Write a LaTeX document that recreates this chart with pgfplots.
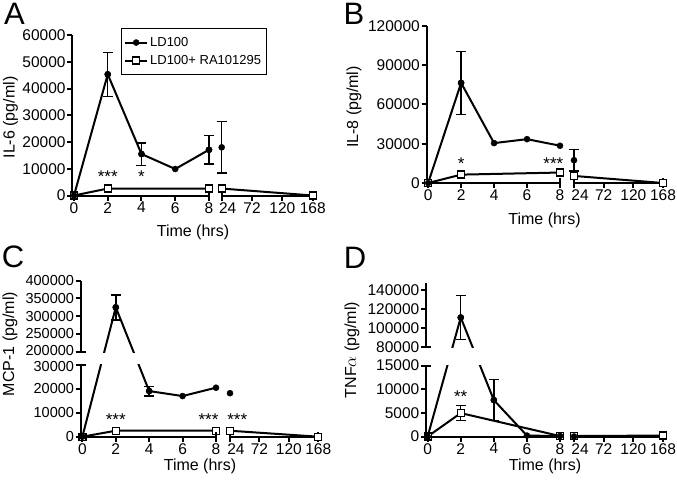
\documentclass[border=0pt]{standalone}
\usepackage{fontspec}
\setmainfont{Liberation Sans}
\usepackage{pgfplots}
\pgfplotsset{compat=1.18}

\newcommand\tickfont{\fontsize{15.5}{18}\selectfont}
\newcommand\tickfontC{\fontsize{14.5}{16}\selectfont}
\newcommand\labfont{\fontsize{16}{19}\selectfont}
\newcommand\letfont{\fontsize{31}{31}\selectfont}
\newcommand\starfont{\fontsize{17}{17}\selectfont}

% broken-axis transforms (value -> pt above the x axis)
\newcommand\brkC[1]{\begingroup\pgfkeys{/pgf/fpu=true,/pgf/fpu/output format=fixed}%
  \pgfmathparse{ifthenelse(#1<100000,#1*0.00239,85+(#1-200000)*0.000355)}%
  \global\let\brkres\pgfmathresult\endgroup\let\pgfmathresult\brkres}
\newcommand\brkD[1]{\begingroup\pgfkeys{/pgf/fpu=true,/pgf/fpu/output format=fixed}%
  \pgfmathparse{ifthenelse(#1<50000,#1*0.00473,89.4+(#1-80000)*0.000955)}%
  \global\let\brkres\pgfmathresult\endgroup\let\pgfmathresult\brkres}

\pgfplotsset{
  base/.style={scale only axis, anchor=south west, axis lines=left,
    axis line style={-, line width=2pt},
    tick style={line width=2pt, black}, major tick length=5pt, tick align=outside,
    ticklabel style={font=\tickfont, inner xsep=1.5pt, inner ysep=0.5pt},
    xticklabel style={yshift=-1pt},
    /pgf/number format/fixed, /pgf/number format/precision=0,
    /pgf/number format/assume math mode=true, /pgf/number format/1000 sep={},
    scaled ticks=false, clip=false, minor tick num=0},
  capx/.style={extra x tick style={tick align=center, major tick length=10pt}},
  capy/.style={extra y tick style={tick align=center, major tick length=10pt}},
  dataax/.style={scale only axis, anchor=south west, hide axis, clip=false, xtick=\empty, ytick=\empty},
  ld/.style={black, line width=2pt, mark=*, mark size=3pt, mark options={solid, fill=black, line width=0.5pt}},
  ra/.style={black, line width=2pt, mark=square*, mark size=3.5pt, mark options={solid, fill=white, line width=1.3pt}},
  eb/.style={/pgfplots/error bars/y dir=both, /pgfplots/error bars/y explicit,
    /pgfplots/error bars/error bar style={line width=1.5pt, black, solid},
    /pgfplots/error bars/error mark options={rotate=90, mark size=5pt, line width=1.5pt, black}},
}

\begin{document}
\begin{tikzpicture}
\path[use as bounding box] (0pt,0pt) rectangle (677pt,483pt);

% ================= Panel A =================
\begin{axis}[base, at={(72.3pt,287.5pt)}, width=136.7pt, height=160.5pt,
  xmin=-0.1, xmax=8, ymin=0, ymax=60000,
  xtick={0,2,4,6}, ytick={0,10000,20000,30000,40000,50000,60000},
  extra x ticks={8}, capx,
  legend style={at={(0.354,1.045)}, anchor=north west, draw=black, line width=0.9pt,
    font=\fontsize{13}{15}\selectfont, inner xsep=3pt, inner ysep=7pt, row sep=3.5pt},
  legend cell align=left,
  legend image code/.code={\draw[mark repeat=2,mark phase=2] plot coordinates {(0pt,0pt) (11pt,0pt) (22pt,0pt)};}]
\addlegendimage{ld}\addlegendentry{LD100}
\addlegendimage{ra}\addlegendentry{LD100+ RA101295}
\addplot[ra, forget plot] coordinates {(0,0) (2,2600) (8,2600)};
\addplot[ld, forget plot] coordinates {(0,0) (2,45300) (4,15500) (6,9900) (8,17100)};
\addplot[ld, only marks, forget plot, eb] coordinates {(2,45300) +- (0,8200) (4,15500) +- (0,4200) (8,17100) +- (0,5300)};
\node[font=\starfont] at (axis cs:2,7000) {***};
\node[font=\starfont] at (axis cs:4,7000) {*};
\end{axis}
\begin{axis}[base, axis y line=none, at={(221.7pt,287.5pt)}, width=91pt, height=160.5pt,
  xmin=24, xmax=168, ymin=0, ymax=60000, ytick=\empty,
  xtick={72,120}, extra x ticks={24,168}, extra x tick labels={\hspace*{12pt}24,168}, capx]
\addplot[ra, forget plot] coordinates {(24,2600) (168,0)};
\addplot[ld, only marks, forget plot, eb] coordinates {(24,18000) +- (0,9600)};
\end{axis}
\node[font=\labfont, rotate=90] at (10.5pt,365.5pt) {IL-6 (pg/ml)};
\node[font=\labfont] at (193pt,251pt) {Time (hrs)};
\node[font=\letfont] at (14.5pt,469pt) {A};

% ================= Panel B =================
\begin{axis}[base, at={(426.5pt,300pt)}, width=133.5pt, height=157pt,
  xmin=-0.1, xmax=8, ymin=0, ymax=120000,
  xtick={0,2,4,6}, ytick={0,30000,60000,90000,120000},
  extra x ticks={8}, capx]
\addplot[ra, forget plot] coordinates {(0,0) (2,6400) (8,8000)};
\addplot[ld, forget plot] coordinates {(0,0) (2,76500) (4,30500) (6,33500) (8,28500)};
\addplot[ld, only marks, forget plot, eb] coordinates {(2,76500) +- (0,24000)};
\node[font=\starfont] at (axis cs:2,15000) {*};
\node[font=\starfont] at (axis cs:7.6,15000) {***};
\end{axis}
\begin{axis}[base, axis y line=none, at={(574pt,300pt)}, width=89pt, height=157pt,
  xmin=24, xmax=168, ymin=0, ymax=120000, ytick=\empty,
  xtick={72,120}, extra x ticks={24,168}, extra x tick labels={\hspace*{12pt}24,168}, capx]
\addplot[ld, only marks, forget plot, eb] coordinates {(24,17400) +- (0,8200)};
\addplot[ra, forget plot] coordinates {(24,5400) (168,0)};
\end{axis}
\node[font=\labfont, rotate=90] at (354pt,376pt) {IL-8 (pg/ml)};
\node[font=\labfont] at (544.5pt,263pt) {Time (hrs)};
\node[font=\letfont] at (354pt,469.5pt) {B};

% ================= Panel C =================
\begin{axis}[dataax, at={(80.7pt,46.3pt)}, width=135.3pt, height=156pt,
  xmin=-0.1, xmax=8, ymin=0, ymax=400000, y coord trafo/.code={\brkC{#1}}]
\addplot[ra, forget plot] coordinates {(0,0) (2,2500) (8,2500)};
\addplot[ld, forget plot] coordinates {(0,0) (2,325000) (4,19100) (6,17000) (8,20500)};
\fill[white] (axis cs:-0.1,30500) rectangle (axis cs:8,197500);
\end{axis}
\begin{axis}[base, at={(80.7pt,46.3pt)}, width=135.3pt, height=71.7pt,
  xmin=-0.1, xmax=8, ymin=0, ymax=30000,
  yticklabel style={font=\tickfontC},
  xtick={0,2,4,6}, ytick={0,10000,20000}, extra x ticks={8}, capx,
  extra y ticks={30000},
  extra y tick style={tick align=center, major tick length=10pt, yticklabel style={yshift=-1.5pt}}]
\addplot[ld, only marks, forget plot, eb] coordinates {(4,19100) +- (0,2000)};
\node[font=\starfont] at (axis cs:2,7000) {***};
\node[font=\starfont] at (axis cs:7.55,7000) {***};
\end{axis}
\begin{axis}[base, axis x line=none, at={(80.7pt,131.3pt)}, width=135.3pt, height=71pt,
  xmin=-0.1, xmax=8, ymin=200000, ymax=400000, xtick=\empty,
  yticklabel style={font=\tickfontC},
  ytick={250000,300000,350000,400000}, extra y ticks={200000},
  extra y tick style={tick align=center, major tick length=10pt, yticklabel style={yshift=1.5pt}}]
\addplot[ld, only marks, forget plot, eb] coordinates {(2,325000) +- (0,35000)};
\end{axis}
\begin{axis}[base, axis y line=none, at={(230pt,46.3pt)}, width=88.3pt, height=71.7pt,
  xmin=24, xmax=168, ymin=0, ymax=30000, ytick=\empty,
  xtick={72,120}, extra x ticks={24,168}, extra x tick labels={\hspace*{12pt}24,168}, capx]
\addplot[ra, forget plot] coordinates {(24,2500) (168,0)};
\addplot[ld, only marks, forget plot] coordinates {(24,18200)};
\node[font=\starfont] at (axis cs:35.9,7000) {***};
\end{axis}
\node[font=\labfont, rotate=90] at (10pt,139pt) {MCP-1 (pg/ml)};
\node[font=\labfont] at (200pt,17pt) {Time (hrs)};
\node[font=\letfont] at (13pt,226pt) {C};

% ================= Panel D =================
\begin{axis}[dataax, at={(426pt,46.5pt)}, width=134pt, height=153.4pt,
  xmin=-0.1, xmax=8, ymin=0, ymax=147000, y coord trafo/.code={\brkD{#1}}]
\addplot[ra, forget plot] coordinates {(0,0) (2,4950) (8,100)};
\addplot[ld, forget plot] coordinates {(0,0) (2,111000) (4,7700) (6,200) (8,100)};
\fill[white] (axis cs:-0.1,15200) rectangle (axis cs:8,79000);
\end{axis}
\begin{axis}[base, at={(426pt,46.5pt)}, width=134pt, height=71pt,
  xmin=-0.1, xmax=8, ymin=0, ymax=15000,
  xtick={0,2,4,6}, ytick={0,5000,10000}, extra x ticks={8}, capx,
  extra y ticks={15000}, capy]
\addplot[ld, only marks, forget plot, eb] coordinates {(4,7700) +- (0,4300)};
\addplot[ra, only marks, forget plot, eb] coordinates {(2,4950) +- (0,1600)};
\node[font=\starfont] at (axis cs:2,8450) {**};
\end{axis}
\begin{axis}[base, axis x line=none, at={(426pt,135.9pt)}, width=134pt, height=64pt,
  xmin=-0.1, xmax=8, ymin=80000, ymax=147000, xtick=\empty,
  ytick={100000,120000,140000}, extra y ticks={80000}, capy]
\addplot[ld, only marks, forget plot, eb] coordinates {(2,111000) +- (0,23000)};
\end{axis}
\begin{axis}[base, axis y line=none, at={(574pt,46.5pt)}, width=89pt, height=71pt,
  xmin=24, xmax=168, ymin=0, ymax=15000, ytick=\empty,
  xtick={72,120}, extra x ticks={24,168}, extra x tick labels={\hspace*{12pt}24,168}, capx]
\addplot[ra, forget plot] coordinates {(24,100) (168,200)};
\addplot[ld, only marks, forget plot] coordinates {(24,0)};
\end{axis}
\node[font=\labfont, rotate=90] at (352pt,133pt) {TNF$\alpha$ (pg/ml)};
\node[font=\labfont] at (545pt,17pt) {Time (hrs)};
\node[font=\letfont] at (355pt,225pt) {D};
\end{tikzpicture}
\end{document}
